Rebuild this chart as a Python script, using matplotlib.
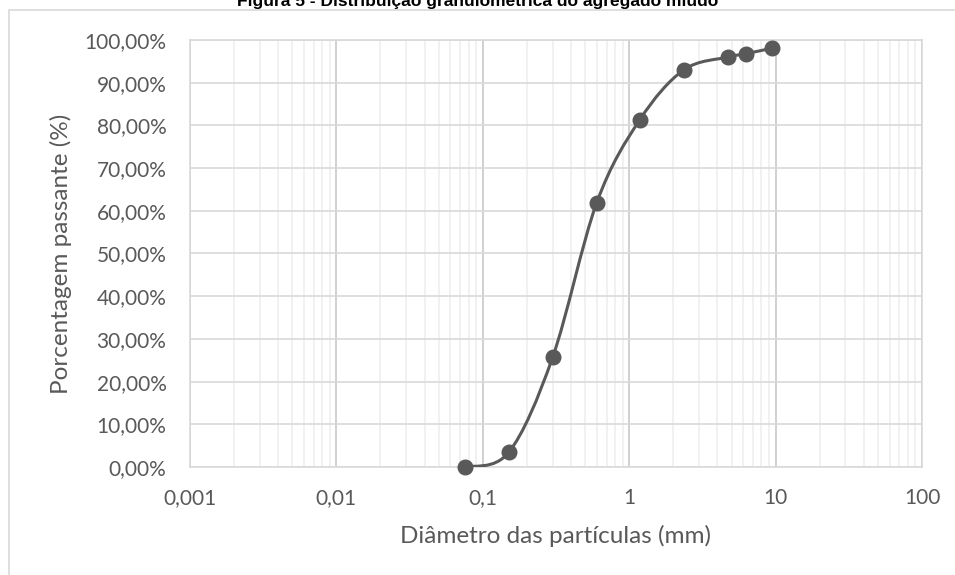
import numpy as np
import matplotlib.pyplot as plt
from matplotlib.path import Path
from matplotlib.patches import PathPatch, Rectangle
from matplotlib.ticker import FixedLocator, FuncFormatter, NullFormatter

# abertura das peneiras (mm) e porcentagem passante (%)
diametros = [0.075, 0.15, 0.3, 0.6, 1.18, 2.36, 4.75, 6.3, 9.5]
passante = [0.0, 3.4, 25.7, 61.9, 81.3, 93.0, 96.0, 96.8, 98.1]

x_ticks = [0.001, 0.01, 0.1, 1, 10, 100]
x_tick_labels = ["0,001", "0,01", "0,1", "1", "10", "100"]
y_ticks = list(range(0, 101, 10))

titulo = "Figura 5 - Distribuição granulométrica do agregado miúdo"
x_label = "Diâmetro das partículas (mm)"
y_label = "Porcentagem passante (%)"

COR = "#595959"
W, H = 955, 575


def curva_suave(xs, ys):
    # linha suavizada tipo Excel (bezier com pontos de controle catmull-rom, em log x)
    lx = np.log10(xs)
    pts = np.column_stack([lx, ys])
    n = len(pts)
    verts = [pts[0]]
    codes = [Path.MOVETO]
    for i in range(n - 1):
        p0 = pts[i - 1] if i > 0 else pts[i]
        p1 = pts[i]
        p2 = pts[i + 1]
        p3 = pts[i + 2] if i + 2 < n else pts[i + 1]
        c1 = p1 + (p2 - p0) / 6.0
        c2 = p2 - (p3 - p1) / 6.0
        verts += [c1, c2, p2]
        codes += [Path.CURVE4] * 3
    verts = np.array(verts)
    verts[:, 0] = 10 ** verts[:, 0]
    return Path(verts, codes)


fig = plt.figure(figsize=(W / 100, H / 100), dpi=100)

# borda da area do grafico (cortada pela imagem)
fig.patches.append(Rectangle((9 / W, -0.1), 1.2, (H - 10) / H + 0.1,
                             transform=fig.transFigure, fill=False,
                             edgecolor="#d9d9d9", linewidth=1.2))

left, right, top, bottom = 190, 922, 40, 467
ax = fig.add_axes([left / W, (H - bottom) / H, (right - left) / W, (bottom - top) / H])

ax.set_xscale("log")
ax.set_xlim(0.001, 100)
ax.set_ylim(0, 100)

ax.xaxis.set_major_locator(FixedLocator(x_ticks))
ax.xaxis.set_major_formatter(FuncFormatter(lambda v, p: x_tick_labels[x_ticks.index(v)] if v in x_ticks else ""))
minors = [m * 10.0 ** e for e in range(-3, 2) for m in range(2, 10)]
ax.xaxis.set_minor_locator(FixedLocator(minors))
ax.xaxis.set_minor_formatter(NullFormatter())
ax.yaxis.set_major_locator(FixedLocator(y_ticks))
ax.yaxis.set_major_formatter(FuncFormatter(lambda v, p: "%d,00%%" % v))

ax.grid(which="minor", axis="x", color="#f0f0f0", linewidth=1.3)
ax.grid(which="major", axis="x", color="#d0d0d0", linewidth=1.4)
ax.grid(which="major", axis="y", color="#d9d9d9", linewidth=1.2)
ax.set_axisbelow(True)

for s in ax.spines.values():
    s.set_color("#d9d9d9")
    s.set_linewidth(1.2)

ax.tick_params(which="both", length=0, labelcolor=COR, labelsize=15)
ax.tick_params(axis="x", pad=15)
ax.tick_params(axis="y", pad=17)
for lab in ax.get_xticklabels() + ax.get_yticklabels():
    lab.set_family("Lato")

ax.add_patch(PathPatch(curva_suave(diametros, passante), fill=False,
                       edgecolor=COR, linewidth=2.2, zorder=3))
ax.plot(diametros, passante, linestyle="none", marker="o", markersize=10.5,
        color=COR, zorder=4, clip_on=False)

ax.set_xlabel(x_label, fontsize=17.5, color=COR, family="Lato", labelpad=12)
ax.set_ylabel(y_label, fontsize=17.5, color=COR, family="Lato", labelpad=9)

fig.text(478 / W, 1 - 6 / H, titulo, ha="center", va="baseline",
         fontsize=12.5, fontweight="bold", family="Liberation Sans", color="black")

fig.savefig("out.png", dpi=100)
